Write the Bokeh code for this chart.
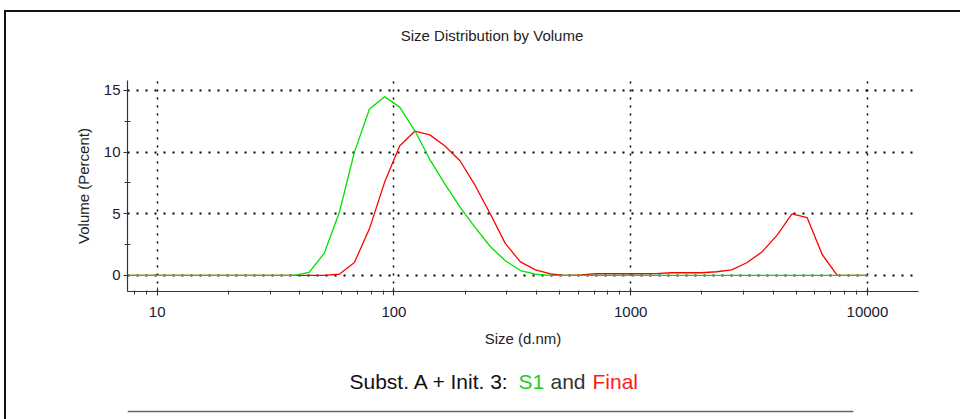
from bokeh.plotting import figure
from bokeh.layouts import column
from bokeh.models import Range1d, FixedTicker, NumeralTickFormatter, ColumnDataSource
from bokeh.core.properties import value
from bokeh.embed import file_html
from bokeh.resources import INLINE

# Size bins (d.nm) and volume distributions (%)
sizes = [5.615, 6.503, 7.531, 8.721, 10.10, 11.70, 13.54, 15.69, 18.17, 21.04,
         24.36, 28.21, 32.67, 37.84, 43.82, 50.75, 58.77, 68.06, 78.82, 91.28,
         105.7, 122.4, 141.8, 164.2, 190.1, 220.2, 255.0, 295.3, 342.0, 396.1,
         458.7, 531.2, 615.1, 712.4, 825.0, 955.4, 1106, 1281, 1484, 1718,
         1990, 2305, 2669, 3091, 3580, 4145, 4801, 5560, 6439, 7456,
         8635, 10000]

s1_volume = [0, 0, 0, 0, 0, 0, 0, 0, 0, 0,
             0, 0, 0, 0.0, 0.25, 1.8, 5.1, 10.0, 13.5, 14.5,
             13.65, 11.75, 9.4, 7.4, 5.55, 3.9, 2.35, 1.2, 0.4, 0.1,
             0, 0, 0, 0, 0, 0, 0, 0, 0, 0,
             0, 0, 0, 0, 0, 0, 0, 0, 0, 0,
             0, 0]

final_volume = [0, 0, 0, 0, 0, 0, 0, 0, 0, 0,
                0, 0, 0, 0, 0, 0, 0.1, 1.05, 3.8, 7.55,
                10.5, 11.7, 11.4, 10.5, 9.3, 7.3, 5.0, 2.6, 1.1, 0.45,
                0.12, 0.0, 0.04, 0.14, 0.14, 0.14, 0.14, 0.15, 0.22, 0.22,
                0.22, 0.3, 0.46, 1.03, 1.9, 3.25, 5.0, 4.7, 1.7, 0.0,
                0.0, 0.0]

x_major = [10, 100, 1000, 10000]
x_minor = [8, 9, 20, 30, 40, 50, 60, 70, 80, 90,
           200, 300, 400, 500, 600, 700, 800, 900,
           2000, 3000, 4000, 5000, 6000, 7000, 8000, 9000, 20000]
y_major = [0, 5, 10, 15]
y_minor = [2.5, 7.5, 12.5]

title_text = "Size Distribution by Volume"
caption_parts = ["Subst. A + Init. 3:", "S1", "and", "Final"]
caption_colors = ["#111111", "#1fcc1f", "#333333", "#ff1a1a"]

FONT = "Liberation Sans"
CW = 954           # content width inside the page frame
HEAD_H, MAIN_H, FOOT_H = 68, 279, 60
# the column lines up all frames with the main plot's frame (page x 127..918)
FRAME_X = (127, 918)


def blank_panel(height):
    """A figure used only as a drawing surface, in page-pixel units."""
    f = figure(width=CW, height=height, x_range=Range1d(*FRAME_X),
               y_range=Range1d(0, height), x_axis_type=None, y_axis_type=None,
               output_backend="svg", toolbar_location=None,
               min_border_left=121, min_border_right=42,
               min_border_top=0, min_border_bottom=0)
    f.outline_line_color = None
    f.grid.visible = False
    return f


# header with the chart title
head = blank_panel(HEAD_H)
head.text(x=[491.5], y=[45], text=[title_text], text_align="center",
          text_baseline="middle", text_font=value(FONT),
          text_font_size="15px", text_color="#222222")

# main distribution plot
p = figure(width=CW, height=MAIN_H, x_axis_type="log",
           x_range=Range1d(7.49, 16430), y_range=Range1d(-1.30, 15.81),
           output_backend="svg", toolbar_location=None,
           min_border_left=121, min_border_right=42,
           min_border_top=0, min_border_bottom=68)
p.outline_line_color = None

src = ColumnDataSource(dict(size=sizes, s1=s1_volume, final=final_volume))
p.line("size", "final", source=src, line_color="#ff0000", line_width=1.3)
p.line("size", "s1", source=src, line_color="#00e000", line_width=1.3)

xa = p.xaxis[0]
xa.ticker = FixedTicker(ticks=x_major, minor_ticks=x_minor)
xa.formatter = NumeralTickFormatter(format="0")
xa.axis_label = "Size (d.nm)"
ya = p.yaxis[0]
ya.ticker = FixedTicker(ticks=y_major, minor_ticks=y_minor)
ya.axis_label = "Volume (Percent)"

for ax in (xa, ya):
    ax.axis_line_color = "#333333"
    ax.axis_line_width = 1.2
    ax.major_tick_line_color = "#333333"
    ax.minor_tick_line_color = "#333333"
    ax.major_label_text_font = FONT
    ax.major_label_text_font_size = "15px"
    ax.major_label_text_color = "#1a1a33"
    ax.axis_label_text_font = FONT
    ax.axis_label_text_font_size = "15px"
    ax.axis_label_text_font_style = "normal"
    ax.axis_label_text_color = "#222222"

xa.major_tick_in = 4
xa.major_tick_out = 4
xa.minor_tick_in = 1
xa.minor_tick_out = 3
xa.major_label_standoff = 11
xa.axis_label_standoff = 10

ya.major_tick_in = 0
ya.major_tick_out = 4
ya.minor_tick_in = 3
ya.minor_tick_out = 3
ya.major_label_standoff = 3
ya.axis_label_standoff = 9

# dotted grid
p.xgrid.grid_line_color = "black"
p.xgrid.grid_line_width = 1.5
p.xgrid.grid_line_dash = "2 6"
p.ygrid.grid_line_color = "black"
p.ygrid.grid_line_width = 2
p.ygrid.grid_line_dash = "2 7"

# footer: caption with coloured sample names and a rule underneath
foot = blank_panel(FOOT_H)
foot.text(x=[349, 518, 550, 592], y=[38] * 4, text=caption_parts,
          text_color=caption_colors, text_align="left",
          text_baseline="middle", text_font=value(FONT),
          text_font_size="21px")
foot.segment(x0=[127], y0=[8], x1=[853], y1=[8], line_color="#666666",
             line_width=1.5)

page = column(head, p, foot, spacing=0)
page.styles = {"margin-top": "10px", "margin-left": "4px",
               "border-top": "2px solid #111111",
               "border-left": "2px solid #111111"}

open("out.html", "w").write(file_html(page, INLINE))
